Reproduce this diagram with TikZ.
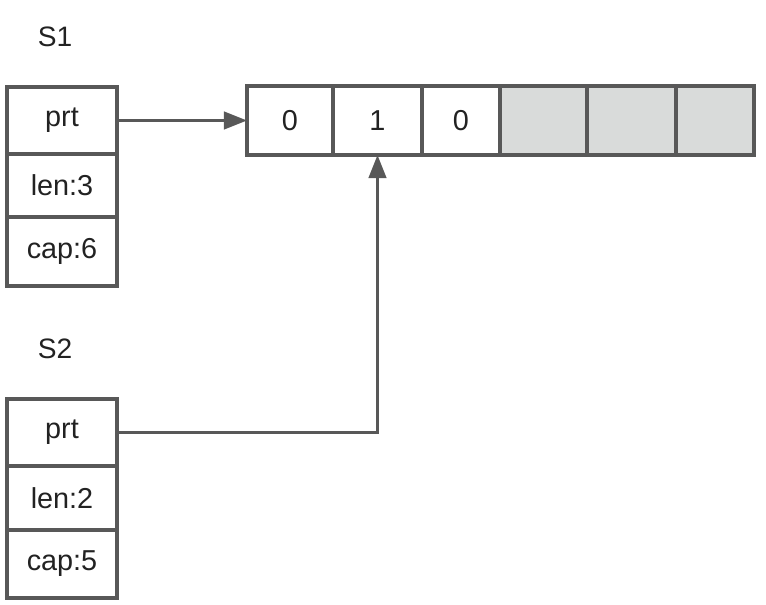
\documentclass[tikz,border=0pt]{standalone}
\usepackage{fontspec}
\setmainfont{Liberation Sans}
\usepackage{tikz}
\usetikzlibrary{arrows.meta, positioning}
\definecolor{edge}{HTML}{585858}
\definecolor{unused}{HTML}{D9DBDA}
\definecolor{ink}{HTML}{222222}

\begin{document}
\begin{tikzpicture}[
    node distance=0pt,
    field/.style={rectangle, draw=edge, fill=white, line width=2.3pt,
                  minimum width=2.75cm, inner sep=0pt, outer sep=0pt, align=center,
                  text=ink, font=\fontsize{20.5}{24}\selectfont},
    cell/.style={rectangle, draw=edge, fill=white, line width=2.3pt,
                 minimum height=1.725cm, inner sep=0pt, outer sep=0pt, align=center,
                 text=ink, font=\fontsize{20.5}{24}\selectfont},
    spare/.style={cell, fill=unused},
    label/.style={text=ink, font=\fontsize{20}{24}\selectfont},
    arrow/.style={-{Triangle[length=0.58cm, width=0.44cm]}, line width=2.1pt, draw=edge}
]
    \useasboundingbox (0,0) rectangle (19.15,-15.1);

    % slice S1
    \node[label] (s1name) at (1.375,-0.92) {S1};
    \node[field, minimum height=1.675cm] (s1prt) at (1.55,-3.0125) {prt};
    \node[field, minimum height=1.575cm, below=of s1prt] (s1len) {len:3};
    \node[field, minimum height=1.725cm, below=of s1len] (s1cap) {cap:6};

    % slice S2
    \node[label] (s2name) at (1.375,-8.72) {S2};
    \node[field, minimum height=1.675cm] (s2prt) at (1.55,-10.8125) {prt};
    \node[field, minimum height=1.6cm, below=of s2prt] (s2len) {len:2};
    \node[field, minimum height=1.7cm, below=of s2len] (s2cap) {cap:5};

    % backing array
    \node[cell, minimum width=2.15cm] (c1) at (7.25,-3.0125) {0};
    \node[cell, minimum width=2.225cm, right=of c1] (c2) {1};
    \node[cell, minimum width=1.95cm, right=of c2] (c3) {0};
    \node[spare, minimum width=2.175cm, right=of c3] (c4) {};
    \node[spare, minimum width=2.225cm, right=of c4] (c5) {};
    \node[spare, minimum width=1.95cm, right=of c5] (c6) {};

    \draw[arrow] (s1prt.east) -- (c1.west);
    \draw[arrow] (s2prt.east) -| (c2.south);
\end{tikzpicture}
\end{document}
